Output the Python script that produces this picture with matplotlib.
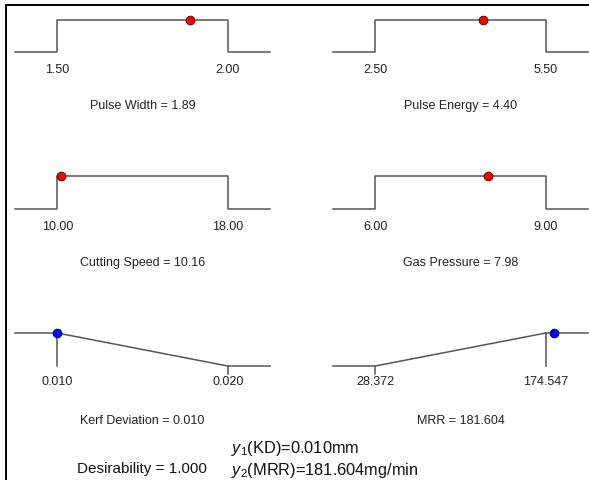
import matplotlib
matplotlib.use("Agg")
import matplotlib.pyplot as plt
from matplotlib.lines import Line2D

# Einstellgrößen (Faktoren) mit Bereich und Optimum
faktoren = ["Pulse Width", "Pulse Energy", "Cutting Speed", "Gas Pressure"]
faktor_min = [1.50, 2.50, 10.00, 6.00]
faktor_max = [2.00, 5.50, 18.00, 9.00]
faktor_opt = [1.89, 4.40, 10.16, 7.98]

# Zielgrößen (Responses)
zielgroessen = ["Kerf Deviation", "MRR"]
ziel_min = [0.010, 28.372]
ziel_max = [0.020, 174.547]
ziel_opt = [0.010, 181.604]
ziel_richtung = ["min", "max"]

desirability = 1.000
ergebnis_texte = [r"$y_1$(KD)=0.010mm", r"$y_2$(MRR)=181.604mg/min"]

W, H = 589, 480
plt.rcParams["font.family"] = ["Liberation Sans", "DejaVu Sans"]
plt.rcParams["mathtext.fontset"] = "custom"
plt.rcParams["mathtext.rm"] = "Liberation Sans"
plt.rcParams["mathtext.it"] = "Liberation Sans:italic"

fig = plt.figure(figsize=(W / 100, H / 100), dpi=100)
fig.patch.set_facecolor("white")

linienfarbe = "#555555"
textfarbe = "#222222"


def px_axes(links, oben, rechts, unten):
    # Achse über Pixelkoordinaten (von oben gemessen) anlegen
    ax = fig.add_axes([links / W, 1 - unten / H, (rechts - links) / W, (unten - oben) / H])
    ax.set_ylim(0, 1)
    ax.axis("off")
    return ax


def bereich(lo, hi):
    rand = 0.248 * (hi - lo)
    return lo - rand, hi + rand


spalten = [(15, 270), (333, 588)]
zeilen = [(20, 52), (176, 209), (333, 366)]

# Faktoren: Rechteckfunktion
for i, name in enumerate(faktoren):
    zeile, spalte = divmod(i, 2)
    x0, x1 = spalten[spalte]
    y0, y1 = zeilen[zeile]
    ax = px_axes(x0, y0, x1, y1)
    lo, hi, opt = faktor_min[i], faktor_max[i], faktor_opt[i]
    a, b = bereich(lo, hi)
    ax.set_xlim(a, b)
    ax.plot([a, lo, lo, hi, hi, b], [0, 0, 1, 1, 0, 0], color=linienfarbe, lw=1.1, clip_on=False)
    ax.plot([opt], [1], "o", color="red", mec="#400000", mew=0.6, ms=6.3, clip_on=False, zorder=5)
    for wert in (lo, hi):
        ax.annotate(f"{wert:.2f}", xy=(wert, 0), xytext=(0, -18), textcoords="offset pixels",
                    ha="center", va="center", fontsize=9, color=textfarbe)
    ax.annotate(f"{name} = {opt:.2f}", xy=(0.5, 0), xycoords="axes fraction", xytext=(0, -54),
                textcoords="offset pixels", ha="center", va="center", fontsize=9, color=textfarbe)

# Zielgrößen: lineare Desirability-Funktion
for i, name in enumerate(zielgroessen):
    x0, x1 = spalten[i]
    y0, y1 = zeilen[2]
    ax = px_axes(x0, y0, x1, y1)
    lo, hi, opt = ziel_min[i], ziel_max[i], ziel_opt[i]
    a, b = bereich(lo, hi)
    ax.set_xlim(a, b)
    if ziel_richtung[i] == "min":
        ax.plot([a, lo, hi, b], [1, 1, 0, 0], color=linienfarbe, lw=1.1, clip_on=False)
        ax.plot([lo, lo], [1, 0], color=linienfarbe, lw=1.1, clip_on=False)
        ax.plot([hi, hi], [0, -0.25], color=linienfarbe, lw=1.1, clip_on=False)
    else:
        ax.plot([a, lo, hi, b], [0, 0, 1, 1], color=linienfarbe, lw=1.1, clip_on=False)
        ax.plot([hi, hi], [1, 0], color=linienfarbe, lw=1.1, clip_on=False)
        ax.plot([lo, lo], [0, -0.25], color=linienfarbe, lw=1.1, clip_on=False)
    d = 1.0  # Optimum liegt im Bereich voller Erwünschtheit
    ax.plot([opt], [d], "o", color="blue", mec="#000040", mew=0.6, ms=6.3, clip_on=False, zorder=5)
    for wert in (lo, hi):
        ax.annotate(f"{wert:.3f}", xy=(wert, 0), xytext=(0, -16), textcoords="offset pixels",
                    ha="center", va="center", fontsize=9, color=textfarbe)
    ax.annotate(f"{name} = {opt:.3f}", xy=(0.5, 0), xycoords="axes fraction", xytext=(0, -55),
                textcoords="offset pixels", ha="center", va="center", fontsize=9, color=textfarbe)

# Gesamt-Desirability und Ergebnisse
fig.text(77 / W, 1 - 469 / H, f"Desirability = {desirability:.3f}", ha="left", va="center",
         fontsize=11, color="#111111")
fig.text(231 / W, 1 - 448 / H, ergebnis_texte[0], ha="left", va="center", fontsize=11.8, color="#111111")
fig.text(231 / W, 1 - 470 / H, ergebnis_texte[1], ha="left", va="center", fontsize=11.8, color="#111111")

# Rahmen oben und links
fig.add_artist(Line2D([6 / W, 1], [1 - 5 / H, 1 - 5 / H], color="black", lw=1.4))
fig.add_artist(Line2D([6 / W, 6 / W], [1 - 5 / H, 0], color="black", lw=1.4))

fig.savefig("out.png", dpi=100)
